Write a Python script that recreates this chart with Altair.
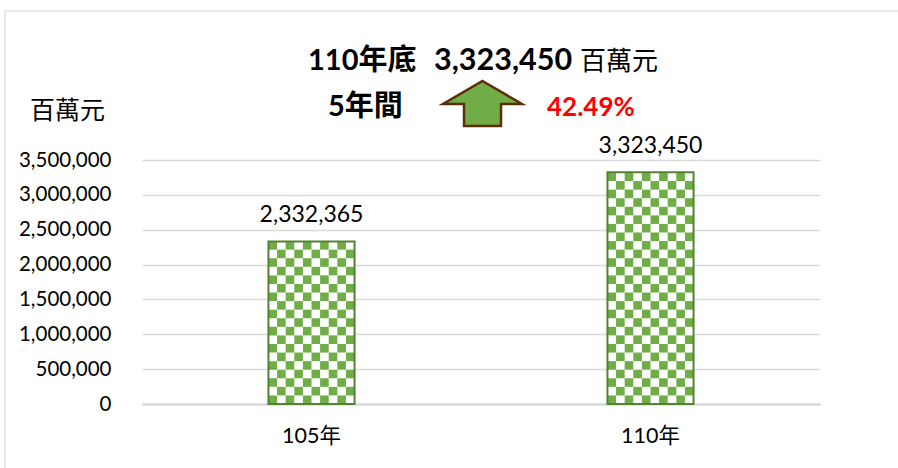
import altair as alt
import pandas as pd

# ---- data ----
years = ["105年", "110年"]
values = [2332365, 3323450]
value_labels = ["2,332,365", "3,323,450"]
y_ticks = [0, 500000, 1000000, 1500000, 2000000, 2500000, 3000000, 3500000]
title_year = "110年底"
title_amount = "3,323,450"
title_unit = "百萬元"
period_text = "5年間"
growth_text = "42.49%"
unit_text = "百萬元"

df = pd.DataFrame({"year": years, "value": values, "label": value_labels})

FONT = "Lato, 'Noto Sans CJK TC', sans-serif"
CJK = "'Noto Sans CJK TC', Lato, sans-serif"
W, H = 678, 244
OX, OY = 142, 160
CELL = 123000   # checker cell height (data units)
NCOL = 10       # checker columns per bar
GREEN = "#70ad47"

xscale = alt.Scale(paddingInner=0.746, paddingOuter=0.373)
yscale = alt.Scale(domain=[0, 3500000], nice=False)
xaxis = alt.Axis(title=None, labelAngle=0, labelFont=FONT, labelFontSize=21.5,
                 labelColor="#000", labelPadding=38, labelBaseline="alphabetic",
                 ticks=False, domainColor="#d4d4d4", domainWidth=2, grid=False)
yaxis = alt.Axis(values=y_ticks, format=",d", title=None, labelFont=FONT,
                 labelFontSize=20.5, labelColor="#000", labelPadding=31,
                 ticks=False, domain=False, gridColor="#d9d9d9", gridWidth=1.5)


def X():
    return alt.X("year:N", sort=years, scale=xscale, axis=xaxis)


def Y(field="value:Q"):
    return alt.Y(field, scale=yscale, axis=yaxis)


base = alt.Chart(df).mark_bar(fill="white", strokeWidth=0).encode(x=X(), y=Y())

cells = alt.Chart(df).transform_calculate(
    r=f"sequence(0, ceil(datum.value / {CELL}))"
).transform_flatten(["r"]).transform_calculate(
    c=f"sequence(0, {NCOL})"
).transform_flatten(["c"]).transform_filter(
    "(datum.r + datum.c) % 2 == 0"
).transform_calculate(
    y0=f"datum.r * {CELL}",
    y1=f"min((datum.r + 1) * {CELL}, datum.value)"
).mark_bar(color=GREEN, strokeWidth=0).encode(
    x=X(),
    xOffset=alt.XOffset("c:O", scale=alt.Scale(paddingInner=0, paddingOuter=0)),
    y=Y("y0:Q"),
    y2="y1:Q",
)

outline = alt.Chart(df).mark_bar(fillOpacity=0, stroke="#548235", strokeWidth=2).encode(
    x=X(), y=Y())

labels = alt.Chart(df).mark_text(dy=-19, baseline="alphabetic", fontSize=23, font=FONT,
                                 color="#000").encode(x=X(), y=Y(), text="label:N")


def note(txt, x, y, size, weight="normal", color="#000", align="left", font=FONT):
    return alt.Chart(pd.DataFrame({"t": [txt]})).mark_text(
        align=align, baseline="alphabetic", fontSize=size, fontWeight=weight,
        color=color, font=font,
    ).encode(x=alt.value(x - OX), y=alt.value(y - OY), text="t:N")


t0 = note(title_year, 308, 70, 29, "bold")
t1 = note(title_amount, 434, 70, 30.5, "bold")
t2 = note(title_unit, 580, 70, 26, font=CJK)
t3 = note(period_text, 328, 116, 29, "bold")
t4 = note(growth_text, 547, 116, 26, "bold", color="#ff0000")
t5 = note(unit_text, 30, 119, 25, font=CJK)

arrow_path = ("M0,-0.5625 L0.9875,0.0125 L0.4625,0.0125 L0.4625,0.5625 "
              "L-0.4625,0.5625 L-0.4625,0.0125 L-0.9875,0.0125 Z")
arrow = alt.Chart(pd.DataFrame({"a": [1]})).mark_point(
    shape=arrow_path, size=6400, filled=True, fill=GREEN, stroke="#5c2e0a",
    strokeWidth=2.5, opacity=1,
).encode(x=alt.value(482.5 - OX), y=alt.value(103.5 - OY))

border = alt.Chart(pd.DataFrame({"a": [1]})).mark_rect(
    fill="transparent", stroke="#e8e8e8", strokeWidth=2,
).encode(x=alt.value(5 - OX), x2=alt.value(920 - OX),
         y=alt.value(11 - OY), y2=alt.value(490 - OY))

chart = alt.layer(border, base, cells, outline, labels, t0, t1, t2, t3, t4, t5, arrow).properties(
    width=W, height=H,
    autosize=alt.AutoSizeParams(type="none"),
    padding={"left": OX, "top": OY, "right": 898 - OX - W, "bottom": 468 - OY - H},
    background="white",
).configure_view(stroke=None)

chart.save("out.html", embed_options={"renderer": "svg", "actions": False})
